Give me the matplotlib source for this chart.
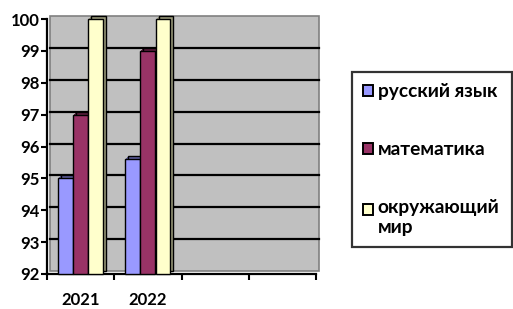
import matplotlib
matplotlib.use("Agg")
import matplotlib.pyplot as plt
from matplotlib.patches import Rectangle, Patch
from matplotlib.legend_handler import HandlerPatch
from matplotlib.transforms import ScaledTranslation, blended_transform_factory
import numpy as np

plt.rcParams['font.family'] = ['Lato', 'DejaVu Sans']

categories = ["2021", "2022", "", ""]
series_names = ["русский язык", "математика", "окружающий\nмир"]
russian = [95.0, 95.6, np.nan, np.nan]
math_vals = [97.0, 99.0, np.nan, np.nan]
world = [100.0, 100.0, np.nan, np.nan]
series = [russian, math_vals, world]
colors = ["#9999FF", "#993366", "#FFFFCC"]
side_colors = ["#5c5c99", "#5c1f3d", "#99997a"]
yticks = [92, 93, 94, 95, 96, 97, 98, 99, 100]

W, H = 513, 309
fig = plt.figure(figsize=(W / 100, H / 100), dpi=100)
ax = fig.add_axes([47 / W, 1 - 274 / H, (316 - 47) / W, (274 - 19) / H])
ax.set_facecolor("none")
ax.set_xlim(-0.5, len(categories) - 0.5)
ax.set_ylim(92, 100)

d = 3  # depth in px
def off(k):
    return ScaledTranslation(k / 100, k / 100, fig.dpi_scale_trans)

# back wall
wall = Rectangle((0, 0), 1, 1, transform=ax.transAxes + off(d), facecolor="#C0C0C0",
                 edgecolor="#808080", lw=1.2, zorder=0, clip_on=False)
ax.add_patch(wall)
# gridlines on the wall
bt = blended_transform_factory(ax.transAxes, ax.transData)
for v in yticks[1:-1]:
    ax.plot([0, 1], [v, v], color="black", lw=1.6, transform=bt + off(d), zorder=1, clip_on=False)

x = np.arange(len(categories))
width = 0.22
offsets = [-0.225, 0.0, 0.225]
base = 92
for s, vals, c, sc, o in zip(series_names, series, colors, side_colors, offsets):
    heights = [v - base for v in vals]
    for k in range(1, d + 1):
        ax.bar(x + o, heights, width, bottom=base, color=sc,
               edgecolor="black" if k == d else "none", lw=1.0,
               transform=ax.transData + off(k), zorder=2, clip_on=False)
    ax.bar(x + o, heights, width, bottom=base, color=c, edgecolor="black", lw=1.0,
           zorder=3, label=s, clip_on=False)

# axes styling
for sp in ["top", "right"]:
    ax.spines[sp].set_visible(False)
ax.spines["left"].set_linewidth(1.6)
ax.spines["bottom"].set_linewidth(1.6)
ax.set_yticks(yticks)
ax.set_yticklabels([str(t) for t in yticks], fontsize=12, fontweight="bold")
ax.tick_params(axis="y", direction="out", length=4, width=1.5, pad=1)
ax.set_xticks(x)
ax.set_xticklabels(categories, fontsize=12, fontweight="bold")
ax.set_xticks(np.arange(-0.5, len(categories)), minor=True)
ax.tick_params(axis="x", which="major", length=0, pad=13)
ax.tick_params(axis="x", which="minor", direction="out", length=4, width=1.5)

# legend
class TopAlignedHandler(HandlerPatch):
    def __init__(self, shift=0.0, **kw):
        super().__init__(**kw)
        self.shift = shift
    def create_artists(self, legend, orig_handle, xdescent, ydescent, width, height,
                       fontsize, trans):
        p = Rectangle((-xdescent, -ydescent + self.shift * fontsize), width, height,
                      facecolor=orig_handle.get_facecolor(), edgecolor="black",
                      lw=orig_handle.get_linewidth(), transform=trans)
        return [p]

handles = [Patch(facecolor=c, edgecolor="black", lw=1.4) for c in colors]
hmap = {handles[0]: TopAlignedHandler(0.0), handles[1]: TopAlignedHandler(0.0),
        handles[2]: TopAlignedHandler(0.45)}
leg = fig.legend(handles, series_names, loc="center left", handler_map=hmap,
                 bbox_to_anchor=(352 / W, 1 - 252 / H, (512 - 352) / W, (252 - 67) / H),
                 mode="expand", frameon=True, fancybox=False, borderaxespad=0,
                 prop={"weight": "bold", "size": 13.8}, handlelength=0.55, handleheight=0.5,
                 handletextpad=0.25, labelspacing=2.15, borderpad=0.55)
leg.get_frame().set_edgecolor("black")
leg.get_frame().set_linewidth(1.6)

fig.savefig("out.png", dpi=100)
